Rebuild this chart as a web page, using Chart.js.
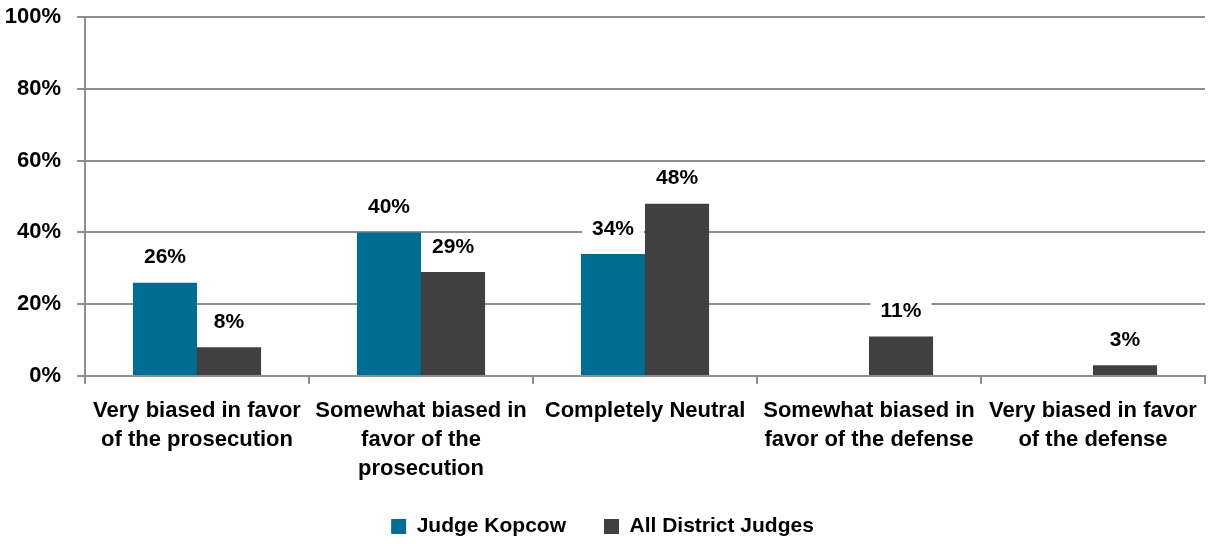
<!DOCTYPE html>
<html>
<head>
<meta charset="utf-8">
<script src="https://cdn.jsdelivr.net/npm/chart.js@4"></script>
<style>
  html, body { margin: 0; padding: 0; background: #fff; }
  #wrap { width: 1211px; height: 544px; position: relative; }
</style>
</head>
<body>
<div id="wrap"><canvas id="chart"></canvas></div>
<script>
const categories = [
    ["Very biased in favor", "of the prosecution"],
    ["Somewhat biased in", "favor of the", "prosecution"],
    ["Completely Neutral"],
    ["Somewhat biased in", "favor of the defense"],
    ["Very biased in favor", "of the defense"]
];
const judgeKopcow = [26, 40, 34, null, null];
const allDistrictJudges = [8, 29, 48, 11, 3];
const yTicks = [0, 20, 40, 60, 80, 100];

const FONT = "'Liberation Sans Narrow', 'Arial Narrow', 'Liberation Sans', sans-serif";
const GRID = "#8f8f8f";

// white-boxed value labels above each bar
const valueLabels = {
    id: "valueLabels",
    afterDatasetsDraw(chart) {
        const ctx = chart.ctx;
        ctx.save();
        ctx.font = "bold 21px " + FONT;
        ctx.textAlign = "center";
        ctx.textBaseline = "middle";
        chart.data.datasets.forEach((ds, i) => {
            chart.getDatasetMeta(i).data.forEach((bar, j) => {
                const v = ds.data[j];
                if (v == null) return;
                const txt = v + "%";
                const w = ctx.measureText(txt).width + 20;
                const y = bar.y - 25;
                ctx.fillStyle = "#fff";
                ctx.fillRect(bar.x - w / 2, y - 13, w, 26);
                ctx.fillStyle = "#000";
                ctx.fillText(txt, bar.x, y);
            });
        });
        ctx.restore();
    }
};

// keep the legend low with wide gaps between its items
const legendHeight = {
    id: "legendHeight",
    afterInit(chart) {
        const lg = chart.legend;
        const fit = lg.fit;
        lg.fit = function () { fit.call(this); this.height = 66; };
    }
};

new Chart(document.getElementById("chart").getContext("2d"), {
    type: "bar",
    data: {
        labels: categories,
        datasets: [{
            label: "Judge Kopcow",
            data: judgeKopcow,
            backgroundColor: "#016d93",
            borderWidth: 0
        }, {
            label: "All District Judges",
            data: allDistrictJudges,
            backgroundColor: "#404040",
            borderWidth: 0
        }]
    },
    options: {
        responsive: true,
        maintainAspectRatio: false,
        animation: false,
        layout: { padding: { top: 0, right: 6, left: 0, bottom: 0 } },
        datasets: { bar: { categoryPercentage: 0.572, barPercentage: 1.0 } },
        scales: {
            x: {
                grid: {
                    offset: true,
                    drawOnChartArea: false,
                    drawTicks: true,
                    tickLength: 8,
                    color: GRID,
                    lineWidth: 2
                },
                border: { display: true, color: GRID, width: 2 },
                ticks: {
                    color: "#000",
                    font: { family: FONT, size: 22, weight: "bold", lineHeight: 1.32 },
                    maxRotation: 0,
                    autoSkip: false,
                    padding: 12
                },
                afterFit(axis) {
                    axis.height = 102;
                    axis._computeLabelArea = () => undefined; // don't clip the 3-line label
                }
            },
            y: {
                min: 0,
                max: 100,
                afterBuildTicks(axis) { axis.ticks = yTicks.map(v => ({ value: v })); },
                grid: {
                    color: GRID,
                    lineWidth: 2,
                    drawTicks: true,
                    tickLength: 8
                },
                border: { display: true, color: GRID, width: 2 },
                ticks: {
                    color: "#000",
                    font: { family: FONT, size: 22, weight: "bold" },
                    padding: 16,
                    callback: v => v + "%"
                },
                afterFit(axis) { axis.width = 85; axis.paddingTop = 17; }
            }
        },
        plugins: {
            legend: {
                position: "bottom",
                labels: {
                    color: "#000",
                    boxWidth: 15,
                    boxHeight: 15,
                    padding: 38,
                    font: { family: FONT, size: 21, weight: "bold" }
                }
            },
            tooltip: { enabled: false }
        }
    },
    plugins: [valueLabels, legendHeight]
});
</script>
</body>
</html>
